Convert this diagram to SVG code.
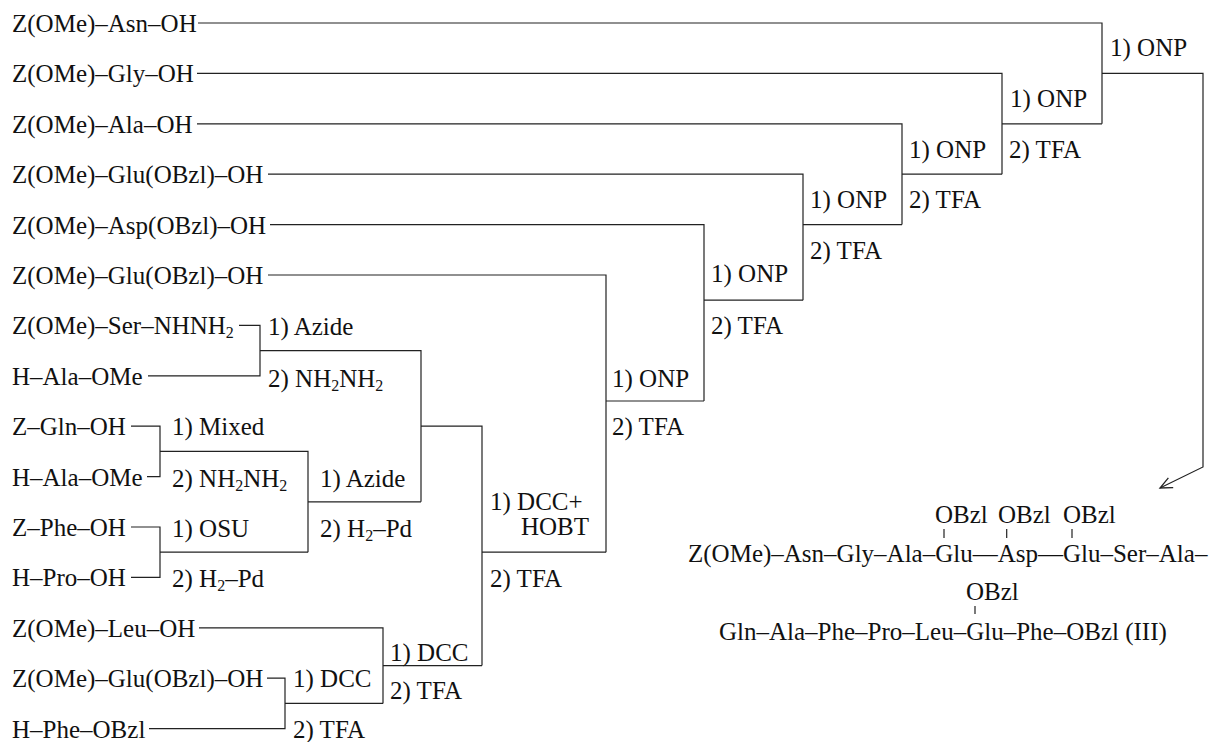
<svg xmlns="http://www.w3.org/2000/svg" width="1216" height="742" viewBox="0 0 1216 742">
<defs>
<style>
.t{font-family:"Liberation Serif","Times New Roman",serif;font-size:25px;fill:#111}
.s{font-size:16px}
.c{fill:none;stroke:#222;stroke-width:1.2}
</style>
<marker id="arr" markerUnits="userSpaceOnUse" markerWidth="16" markerHeight="14" refX="13" refY="7" orient="auto">
<path d="M1,1.5 L13,7 L1,12.5" fill="none" stroke="#222" stroke-width="1.3"/>
</marker>
</defs>
<rect width="1216" height="742" fill="#fff"/>

<g id="connectors" class="c">
<path d="M198 23 H1102 V123.8"/>
<path d="M1102 73.4 H1203 V467 L1160 488" marker-end="url(#arr)"/>
<path d="M197 73.4 H1002 V174.2"/>
<path d="M1002 123.8 H1102"/>
<path d="M197 123.8 H902 V224.6"/>
<path d="M902 174.2 H1002"/>
<path d="M268 174.2 H803 V300.2"/>
<path d="M803 224.6 H902"/>
<path d="M270 224.6 H704 V401"/>
<path d="M704 300.2 H803"/>
<path d="M268 275 H606 V552.2"/>
<path d="M606 401 H704"/>
<path d="M239 325.4 H260 V375.8 H148"/>
<path d="M260 350.6 H421 V501.8"/>
<path d="M131 426.2 H160 V476.6 H147"/>
<path d="M160 451.4 H308 V552.2"/>
<path d="M131 527 H160 V577.4 H131"/>
<path d="M160 552.2 H308"/>
<path d="M308 501.8 H421"/>
<path d="M421 426.2 H482 V665.6"/>
<path d="M482 552.2 H606"/>
<path d="M199 627.8 H383 V703.4"/>
<path d="M383 665.6 H482"/>
<path d="M267 678.2 H285 V728.6 H149"/>
<path d="M285 703.4 H383"/>
<path d="M944 529 V538 M1006.7 529 V538 M1072 529 V538 M975 606 V614"/>
</g>

<g id="r-asn"><text class="t" x="12" y="32">Z(OMe)–Asn–OH</text></g>
<g id="r-gly"><text class="t" x="12" y="82.4">Z(OMe)–Gly–OH</text></g>
<g id="r-ala"><text class="t" x="12" y="132.8">Z(OMe)–Ala–OH</text></g>
<g id="r-glu1"><text class="t" x="12" y="183.2">Z(OMe)–Glu(OBzl)–OH</text></g>
<g id="r-asp"><text class="t" x="12" y="233.6">Z(OMe)–Asp(OBzl)–OH</text></g>
<g id="r-glu2"><text class="t" x="12" y="284">Z(OMe)–Glu(OBzl)–OH</text></g>
<g id="r-ser"><text class="t" x="12" y="334.4">Z(OMe)–Ser–NHNH<tspan class="s" dy="4">2</tspan></text></g>
<g id="r-alaome1"><text class="t" x="12" y="384.8">H–Ala–OMe</text></g>
<g id="r-gln"><text class="t" x="12" y="435.2">Z–Gln–OH</text></g>
<g id="r-alaome2"><text class="t" x="12" y="485.6">H–Ala–OMe</text></g>
<g id="r-phe"><text class="t" x="12" y="536">Z–Phe–OH</text></g>
<g id="r-pro"><text class="t" x="12" y="586.4">H–Pro–OH</text></g>
<g id="r-leu"><text class="t" x="12" y="636.8">Z(OMe)–Leu–OH</text></g>
<g id="r-glu3"><text class="t" x="12" y="687.2">Z(OMe)–Glu(OBzl)–OH</text></g>
<g id="r-pheobzl"><text class="t" x="12" y="737.6">H–Phe–OBzl</text></g>

<g id="s-onp1"><text class="t" x="1110" y="56">1) ONP</text></g>
<g id="s-onp2"><text class="t" x="1010" y="106.5">1) ONP</text><text class="t" x="1009" y="158">2) TFA</text></g>
<g id="s-onp3"><text class="t" x="909" y="158">1) ONP</text><text class="t" x="909" y="208.4">2) TFA</text></g>
<g id="s-onp4"><text class="t" x="810" y="208.4">1) ONP</text><text class="t" x="810" y="259">2) TFA</text></g>
<g id="s-onp5"><text class="t" x="711" y="282">1) ONP</text><text class="t" x="711" y="334">2) TFA</text></g>
<g id="s-onp6"><text class="t" x="612" y="387">1) ONP</text><text class="t" x="612" y="435">2) TFA</text></g>
<g id="s-dcchobt"><text class="t" x="490" y="510">1) DCC+</text><text class="t" x="521" y="535">HOBT</text><text class="t" x="490" y="587">2) TFA</text></g>
<g id="s-azide1"><text class="t" x="268" y="335">1) Azide</text><text class="t" x="268" y="387">2) NH<tspan class="s" dy="4">2</tspan><tspan dy="-4">NH</tspan><tspan class="s" dy="4">2</tspan></text></g>
<g id="s-mixed"><text class="t" x="172" y="435">1) Mixed</text><text class="t" x="172" y="487">2) NH<tspan class="s" dy="4">2</tspan><tspan dy="-4">NH</tspan><tspan class="s" dy="4">2</tspan></text></g>
<g id="s-osu"><text class="t" x="172" y="537">1) OSU</text><text class="t" x="172" y="587">2) H<tspan class="s" dy="4">2</tspan><tspan dy="-4">–Pd</tspan></text></g>
<g id="s-azide2"><text class="t" x="320" y="487">1) Azide</text><text class="t" x="320" y="537">2) H<tspan class="s" dy="4">2</tspan><tspan dy="-4">–Pd</tspan></text></g>
<g id="s-dcc1"><text class="t" x="390" y="661">1) DCC</text><text class="t" x="390" y="699">2) TFA</text></g>
<g id="s-dcc2"><text class="t" x="293" y="687">1) DCC</text><text class="t" x="293" y="738">2) TFA</text></g>

<g id="product">
<text class="t" x="935" y="523">OBzl</text>
<text class="t" x="998" y="523">OBzl</text>
<text class="t" x="1063" y="523">OBzl</text>
<text class="t" x="688" y="562">Z(OMe)–Asn–Gly–Ala–Glu—Asp—Glu–Ser–Ala–</text>
<text class="t" x="966" y="600">OBzl</text>
<text class="t" x="719" y="640">Gln–Ala–Phe–Pro–Leu–Glu–Phe–OBzl (III)</text>
</g>
</svg>
